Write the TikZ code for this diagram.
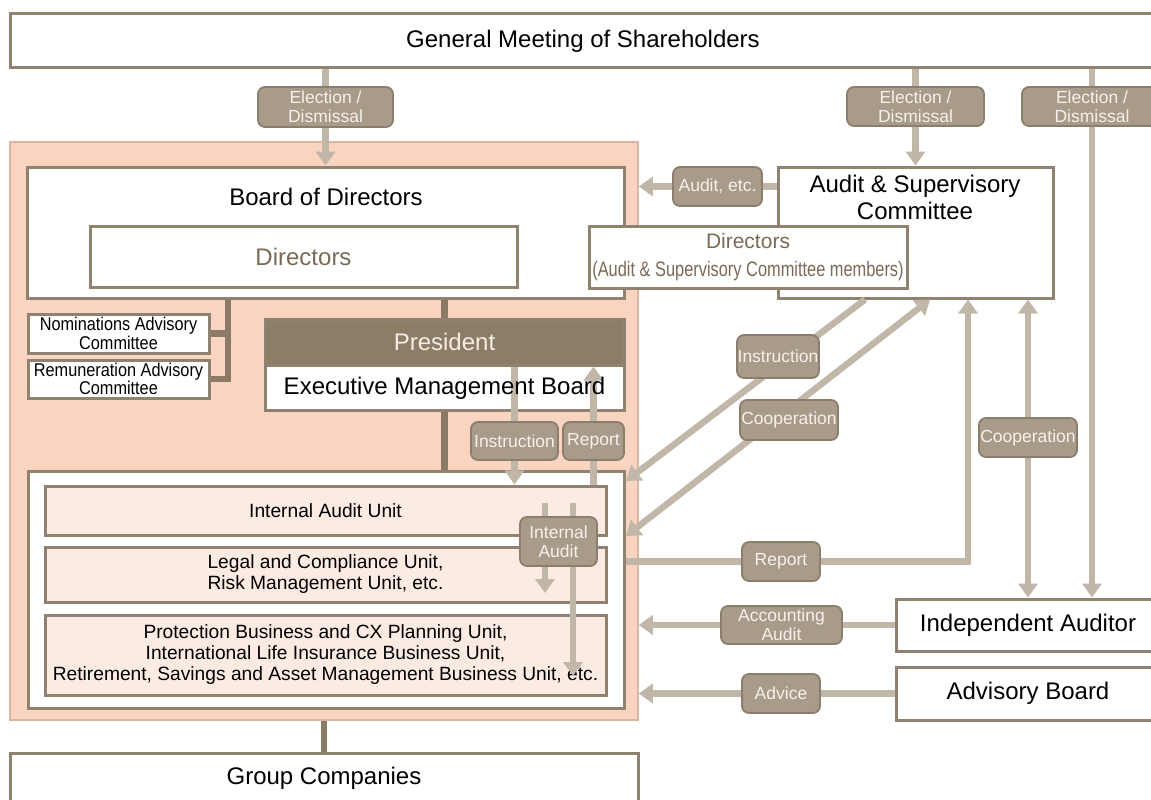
\documentclass[tikz,border=0pt]{standalone}
\usepackage{fontspec}
\setmainfont{Liberation Sans}
\newfontfamily\narrowA[FakeStretch=0.78]{Liberation Sans}
\newfontfamily\narrowB[FakeStretch=0.88]{Liberation Sans}
\usetikzlibrary{arrows.meta}
\definecolor{pinkbg}{HTML}{F8D4C1}
\definecolor{pinkbd}{HTML}{D9B6A3}
\definecolor{boxc}{HTML}{8F8271}
\definecolor{unitc}{HTML}{FCEBE2}
\definecolor{labf}{HTML}{A89B8A}
\definecolor{labd}{HTML}{8C7E6C}
\definecolor{labt}{HTML}{F6F1EB}
\definecolor{arrc}{HTML}{C1B7A8}
\definecolor{orgc}{HTML}{8B7B65}
\definecolor{presc}{HTML}{8E7D66}
\definecolor{prest}{HTML}{F3EDE6}
\definecolor{brownt}{HTML}{7B6A55}
\newcommand\fsz[2]{\fontsize{#1}{#2}\selectfont}
\tikzset{
  box/.style={draw=boxc, line width=3pt, fill=white, inner sep=0pt, align=center, font=\fsz{24}{27}},
  unit/.style={box, fill=unitc, font=\fsz{19.2}{21}},
  cmt/.style={box, font=\narrowB\fsz{18.5}{17}},
  lab/.style={draw=labd, fill=labf, line width=1.8pt, rounded corners=7pt, text=labt, align=center, font=\fsz{17.5}{19}, inner sep=0pt},
  arr/.style={draw=arrc, line width=6.5pt, -{Triangle[width=19pt,length=14pt]}},
  darr/.style={draw=arrc, line width=6.5pt, {Triangle[width=19pt,length=14pt]}-{Triangle[width=19pt,length=14pt]}},
  org/.style={draw=orgc, line width=6.5pt},
  txt/.style={inner sep=0pt, align=center, font=\fsz{24}{27}}
}
\begin{document}
\begin{tikzpicture}[x=1pt,y=-1pt]
\useasboundingbox (0,0) rectangle (1151,800);
% pink area
\node[draw=pinkbd, fill=pinkbg, line width=1.5pt, minimum width=628pt, minimum height=578pt, inner sep=0pt] (pink) at (324,431) {};
% boxes
\node[box, minimum width=1146pt, minimum height=54pt] (gms) at (583,41) {General Meeting of Shareholders};
\node[box, minimum width=597pt, minimum height=131pt] (board) at (325.5,232.5) {};
\node[txt] (boardt) at (326,197) {Board of Directors};
\node[box, minimum width=427pt, minimum height=61pt, text=brownt] (dirs) at (303.5,256.5) {Directors};
\node[box, minimum width=275pt, minimum height=131pt] (asc) at (915.5,232.5) {};
\node[txt] (asct) at (915,197) {Audit \& Supervisory\\Committee};
\node[box, minimum width=318pt, minimum height=62pt, text=brownt, font=\fsz{21}{28}] (adir) at (748,257) {Directors\\{\narrowA(Audit \& Supervisory Committee members)}};
\node[cmt, minimum width=181pt, minimum height=39pt] (nom) at (118.5,333.5) {Nominations Advisory\\Committee};
\node[cmt, minimum width=181pt, minimum height=38pt] (rem) at (118.5,379) {Remuneration Advisory\\Committee};
\node[box, fill=presc, text=prest, minimum width=359pt, minimum height=46pt] (pres) at (444.5,342) {President};
\node[box, minimum width=359pt, minimum height=45pt] (emb) at (444.5,387.5) {};
\node[box, minimum width=596pt, minimum height=237pt] (inner) at (326,589.5) {};
\node[unit, minimum width=561pt, minimum height=49pt] (iau) at (325.5,510.5) {Internal Audit Unit};
\node[unit, minimum width=561pt, minimum height=55pt] (legal) at (325.5,574.5) {Legal and Compliance Unit,\\Risk Management Unit, etc.};
\node[unit, minimum width=561pt, minimum height=80pt] (prot) at (325.5,655) {Protection Business and CX Planning Unit,\\International Life Insurance Business Unit,\\Retirement, Savings and Asset Management Business Unit, etc.};
\node[box, minimum width=628pt, minimum height=50pt] (group) at (324,778) {Group Companies};
\node[box, minimum width=264pt, minimum height=52pt] (ia) at (1028,625) {Independent Auditor};
\node[box, minimum width=264pt, minimum height=53pt] (ab) at (1028,693.5) {Advisory Board};
% organisation lines
\coordinate (jx) at (228,0);
\draw[org] (board.south -| jx) |- (rem.east);
\draw[org] (nom.east) -- (nom.east -| jx);
\draw[org] (board.south -| pres) -- (pres.north);
\draw[org] (emb.south) -- (inner.north -| emb.south);
\draw[org] (pink.south) -- (group.north);
% label anchors (positions)
\coordinate (el1) at (325.5,107);
\coordinate (el2) at (915.5,106.5);
\coordinate (el3) at (1092,106.5);
\coordinate (auditc) at (717.5,186.5);
\coordinate (instr1c) at (514.5,441);
\coordinate (rep1c) at (593.5,441);
\coordinate (iac) at (558.5,541.5);
\coordinate (rep2c) at (781,561.5);
\coordinate (coop2c) at (1028,437.5);
\coordinate (r2x) at (968,0);
\coordinate (ia1s) at (545,503);
\coordinate (ia1e) at (545,593);
\coordinate (ia2s) at (573,503);
\coordinate (ia2e) at (573,676);
\coordinate (i2a) at (865,299.5);
\coordinate (i2b) at (626,481);
\coordinate (c1a) at (626,536);
\coordinate (c1b) at (930,299.5);
% arrows
\draw[arr] (gms.south -| el1) -- (board.north -| el1);
\draw[arr] (gms.south -| el2) -- (asc.north -| el2);
\draw[arr] (gms.south -| el3) -- (ia.north -| el3);
\draw[arr] (asc.west |- auditc) -- (pink.east |- auditc);
\draw[arr] (pres.south -| instr1c) -- (iau.north -| instr1c);
\draw[arr] (iau.north -| rep1c) -- (pres.south -| rep1c);
\draw[arr] (ia1s) -- (ia1e);
\draw[arr] (ia2s) -- (ia2e);
\draw[arr] (i2a) -- (i2b);
\draw[darr] (c1a) -- (c1b);
\draw[arr] (inner.east |- rep2c) -| (r2x |- asc.south);
\draw[darr] (asc.south -| coop2c) -- (ia.north -| coop2c);
\draw[arr] (ia.west) -- (pink.east |- ia.west);
\draw[arr] (ab.west) -- (pink.east |- ab.west);
\node[txt] (embt) at (444.5,388) {Executive Management Board};
% labels
\node[lab, minimum width=135pt, minimum height=40pt] (l1) at (el1) {Election /\\Dismissal};
\node[lab, minimum width=137pt, minimum height=39pt] (l2) at (el2) {Election /\\Dismissal};
\node[lab, minimum width=140pt, minimum height=39pt] (l3) at (el3) {Election /\\Dismissal};
\node[lab, minimum width=89pt, minimum height=39pt] (laudit) at (auditc) {Audit, etc.};
\node[lab, minimum width=87pt, minimum height=38pt] (linstr1) at (instr1c) {Instruction};
\node[lab, minimum width=61pt, minimum height=38pt] (lrep1) at (rep1c) {Report};
\node[lab, minimum width=77pt, minimum height=49pt] (lia) at (iac) {Internal\\Audit};
\node[lab, minimum width=82pt, minimum height=43pt] (linstr2) at (778,356.5) {Instruction};
\node[lab, minimum width=98pt, minimum height=40pt] (lcoop1) at (789,420) {Cooperation};
\node[lab, minimum width=78pt, minimum height=39pt] (lrep2) at (rep2c) {Report};
\node[lab, minimum width=98pt, minimum height=39pt] (lcoop2) at (coop2c) {Cooperation};
\node[lab, minimum width=121pt, minimum height=38pt] (lacc) at (781.5,625) {Accounting\\Audit};
\node[lab, minimum width=78pt, minimum height=39pt] (ladv) at (781,693.5) {Advice};
\end{tikzpicture}
\end{document}
